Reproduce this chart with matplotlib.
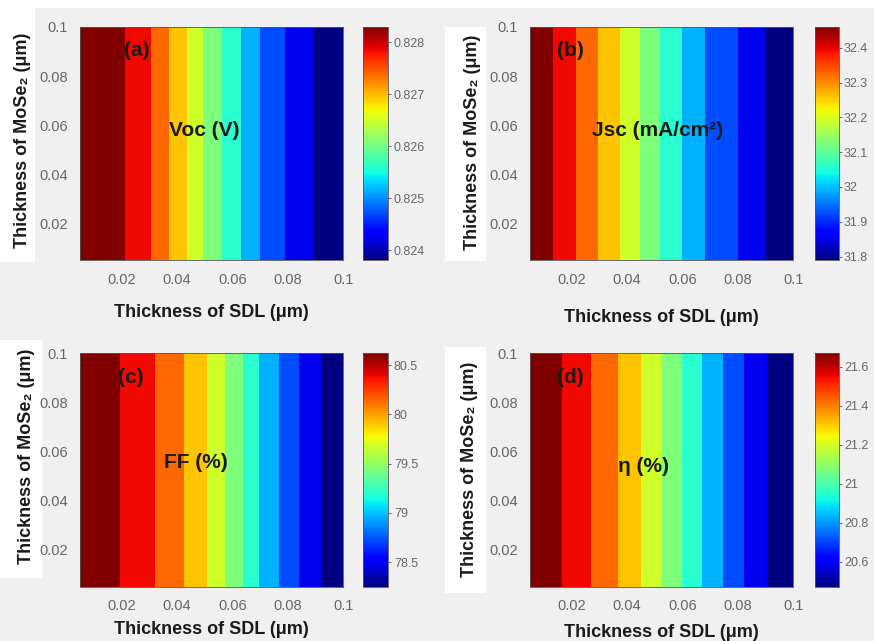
import numpy as np
import matplotlib.pyplot as plt
from matplotlib.patches import Rectangle
from matplotlib.colors import Normalize
from matplotlib.cm import ScalarMappable

plt.rcParams['font.family'] = ['Liberation Sans', 'DejaVu Sans']

# SDL thickness (um) along x, MoSe2 thickness (um) along y
sdl = [0.005, 0.01, 0.02, 0.03, 0.04, 0.05, 0.06, 0.07, 0.08, 0.09, 0.1]
mose2 = [0.005, 0.0525, 0.1]

# values (no dependence on MoSe2 thickness)
voc = [0.82829, 0.82817, 0.82793, 0.82752, 0.82690, 0.82622,
       0.82561, 0.82503, 0.82457, 0.82419, 0.82381]
jsc = [32.460, 32.421, 32.351, 32.275, 32.195, 32.111,
       32.032, 31.959, 31.913, 31.850, 31.790]
ff = [80.62, 80.545, 80.394, 80.232, 80.038, 79.790,
      79.458, 79.099, 78.795, 78.512, 78.25]
eta = [21.669, 21.622, 21.526, 21.421, 21.302, 21.163,
       21.012, 20.864, 20.719, 20.588, 20.472]

names = ['Voc (V)', 'Jsc (mA/cm²)', 'FF (%)', 'η (%)']
tags = ['(a)', '(b)', '(c)', '(d)']
cb_ticks = [[0.824, 0.825, 0.826, 0.827, 0.828],
            [31.8, 31.9, 32.0, 32.1, 32.2, 32.3, 32.4],
            [78.5, 79.0, 79.5, 80.0, 80.5],
            [20.6, 20.8, 21.0, 21.2, 21.4, 21.6]]
axis_ticks = [0.02, 0.04, 0.06, 0.08, 0.1]

W, H = 874, 641
fig = plt.figure(figsize=(W / 100, H / 100), dpi=100, facecolor='#f0f0f0')


def frac(x0, y0, x1, y1):
    # pixel box (top-left origin) -> figure fraction
    return [x0 / W, 1 - y1 / H, (x1 - x0) / W, (y1 - y0) / H]


# white patches behind the y labels / top strip
for box in [(0, 0, W, 8), (0, 0, 35, 262), (445, 27, 486, 261),
            (0, 340, 42, 578), (445, 347, 486, 593)]:
    r = frac(*box)
    fig.add_artist(Rectangle((r[0], r[1]), r[2], r[3], transform=fig.transFigure,
                             facecolor='white', edgecolor='none', zorder=-1))

ax_boxes = [(80, 27, 343.3, 260), (530, 27, 793.3, 260),
            (80, 353.3, 343.3, 586.7), (530, 353.3, 793.3, 586.7)]
cb_boxes = [(363.3, 27, 388.3, 260), (815, 27, 838.5, 260),
            (363.3, 353.3, 388.3, 586.7), (815, 353.3, 839, 586.7)]
tag_pos = [(0.215, 0.90), (0.152, 0.90), (0.193, 0.897), (0.152, 0.897)]
name_pos = [(0.473, 0.557, 'center'), (0.234, 0.557, 'left'),
            (0.439, 0.530, 'center'), (0.43, 0.514, 'center')]
ylab_pos = [(-0.2165, 0.514), (-0.2165, 0.505), (-0.205, 0.557), (-0.228, 0.504)]
xlab_pos = [-0.227, -0.248, -0.185, -0.195]

band_colors = plt.cm.jet(np.linspace(0, 1, 11))
tick_col = '#666666'
text_col = '#1a1a1a'

for i, vals in enumerate([voc, jsc, ff, eta]):
    ax = fig.add_axes(frac(*ax_boxes[i]))
    v = np.array(vals)
    X, Y = np.meshgrid(sdl, mose2)
    Z = np.tile(v, (len(mose2), 1))
    levels = np.linspace(v.min(), v.max(), 12)
    ax.contourf(X, Y, Z, levels=levels, colors=band_colors)
    ax.set_xlim(0.005, 0.1)
    ax.set_ylim(0.005, 0.1)
    ax.set_xticks(axis_ticks)
    ax.set_yticks(axis_ticks)
    ax.set_xticklabels(['{:g}'.format(t) for t in axis_ticks])
    ax.set_yticklabels(['{:g}'.format(t) for t in axis_ticks])
    ax.tick_params(length=0, labelsize=10.5, labelcolor=tick_col, pad=9)
    for s in ax.spines.values():
        s.set_linewidth(0.6)
        s.set_color('#555555')

    ax.set_xlabel('Thickness of SDL (μm)', fontsize=13, fontweight='bold', color=text_col)
    ax.xaxis.set_label_coords(0.5, xlab_pos[i])
    ax.xaxis.label.set_va('center')
    ax.set_ylabel('Thickness of MoSe₂ (μm)', fontsize=13, fontweight='bold', color=text_col)
    ax.yaxis.set_label_coords(*ylab_pos[i])
    ax.yaxis.label.set_va('center')

    ax.text(tag_pos[i][0], tag_pos[i][1], tags[i], transform=ax.transAxes,
            ha='center', va='center', fontsize=15, fontweight='bold', color=text_col)
    nx, ny, nha = name_pos[i]
    ax.text(nx, ny, names[i], transform=ax.transAxes, ha=nha, va='center',
            fontsize=15, fontweight='bold', color=text_col)

    cax = fig.add_axes(frac(*cb_boxes[i]))
    sm = ScalarMappable(norm=Normalize(v.min(), v.max()), cmap='jet')
    cb = fig.colorbar(sm, cax=cax)
    cb.set_ticks(cb_ticks[i])
    cb.set_ticklabels(['{:g}'.format(t) for t in cb_ticks[i]])
    cb.ax.tick_params(labelsize=9, labelcolor=tick_col, length=2, width=0.6,
                      color='#555555', pad=2)
    cb.outline.set_linewidth(0.6)
    cb.outline.set_edgecolor('#555555')

fig.savefig('out.png', dpi=100, facecolor=fig.get_facecolor())
